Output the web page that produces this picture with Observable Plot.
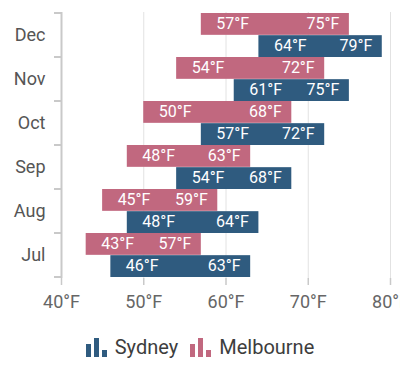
<!DOCTYPE html>
<html>
<head>
<meta charset="utf-8">
<script src="https://cdn.jsdelivr.net/npm/d3@7"></script>
<script src="https://cdn.jsdelivr.net/npm/@observablehq/plot@0.6"></script>
<style>
  html, body { margin: 0; padding: 0; background: #fff; overflow: hidden; }
  body { width: 400px; height: 375px; font-family: Roboto, sans-serif; }
  #legend { display: flex; justify-content: center; align-items: center; height: 44px; margin-top: 0px; font-size: 20px; color: #3d3d3d; padding-left: 0px; }
  .item { display: flex; align-items: center; }
  .item svg { margin-right: 7px; }
  .item + .item { margin-left: 12px; }
</style>
</head>
<body>
<div id="chart"></div>
<div id="legend"></div>
<script>
const months = ["Dec", "Nov", "Oct", "Sep", "Aug", "Jul"];
const sydneyLow = [64, 61, 57, 54, 48, 46];
const sydneyHigh = [79, 75, 72, 68, 64, 63];
const melbourneLow = [57, 54, 50, 48, 45, 43];
const melbourneHigh = [75, 72, 68, 63, 59, 57];
const xTicks = [40, 50, 60, 70, 80];
const seriesNames = ["Sydney", "Melbourne"];
const colors = { Sydney: "#2f5b7f", Melbourne: "#c1687f" };

const sydney = months.map((m, i) => ({ month: m, low: sydneyLow[i], high: sydneyHigh[i] }));
const melbourne = months.map((m, i) => ({ month: m, low: melbourneLow[i], high: melbourneHigh[i] }));

const fmt = d => d + "°F";
const marginTop = 12, marginBottom = 47, H = 325;
const half = (H - marginTop - marginBottom) / months.length / 2;

const bandTicks = (index, scales, values, dimensions) => {
  const y = scales.y;
  const bw = y(months[1]) - y(months[0]);
  const ys = months.map(m => y(m)).concat([y(months[months.length - 1]) + bw]);
  const g = d3.create("svg:g");
  g.selectAll("line").data(ys).join("line")
    .attr("x1", dimensions.marginLeft - 7).attr("x2", dimensions.marginLeft)
    .attr("y1", d => d).attr("y2", d => d)
    .attr("stroke", "#c9c9c9").attr("stroke-width", 2);
  return g.node();
};

const chart = Plot.plot({
  width: 400,
  height: H,
  marginLeft: 61,
  marginRight: 10,
  marginTop,
  marginBottom,
  style: { fontFamily: "Roboto, sans-serif", background: "#fff", overflow: "visible" },
  x: { domain: [40, 80] },
  y: { domain: months, padding: 0 },
  marks: [
    Plot.gridX(xTicks.slice(1), { stroke: "#e2e2e2", strokeOpacity: 1 }),
    Plot.axisX(xTicks, { tickSize: 7, stroke: "#c9c9c9", strokeWidth: 1.5, tickPadding: 10, tickFormat: fmt, fontSize: 18, fill: "#666", label: null }),
    Plot.ruleX([40], { stroke: "#c9c9c9", strokeWidth: 2 }),
    Plot.axisY({ tickSize: 0, tickPadding: 16, fontSize: 18, fill: "#555", label: null }),
    bandTicks,
    Plot.barX(melbourne, { x1: "low", x2: "high", y: "month", fill: colors.Melbourne, insetBottom: half, insetTop: 0 }),
    Plot.barX(sydney, { x1: "low", x2: "high", y: "month", fill: colors.Sydney, insetTop: half, insetBottom: 0 }),
    Plot.text(melbourne, { x: "low", y: "month", text: d => fmt(d.low), dy: -half / 2 - 0.5, dx: 15, textAnchor: "start", fill: "#fff", fontSize: 16 }),
    Plot.text(melbourne, { x: "high", y: "month", text: d => fmt(d.high), dy: -half / 2 - 0.5, dx: -10, textAnchor: "end", fill: "#fff", fontSize: 16 }),
    Plot.text(sydney, { x: "low", y: "month", text: d => fmt(d.low), dy: half / 2 - 0.5, dx: 15, textAnchor: "start", fill: "#fff", fontSize: 16 }),
    Plot.text(sydney, { x: "high", y: "month", text: d => fmt(d.high), dy: half / 2 - 0.5, dx: -10, textAnchor: "end", fill: "#fff", fontSize: 16 })
  ]
});
document.getElementById("chart").appendChild(chart);

const legend = document.getElementById("legend");
for (const name of seriesNames) {
  const item = document.createElement("div");
  item.className = "item";
  const c = colors[name];
  item.innerHTML = `<svg width="22" height="20" viewBox="0 0 22 20">
    <rect x="0" y="7" width="5" height="13" fill="${c}"/>
    <rect x="8" y="1" width="5" height="19" fill="${c}"/>
    <rect x="16" y="13" width="5" height="7" fill="${c}"/>
  </svg><span>${name}</span>`;
  legend.appendChild(item);
}
</script>
</body>
</html>
